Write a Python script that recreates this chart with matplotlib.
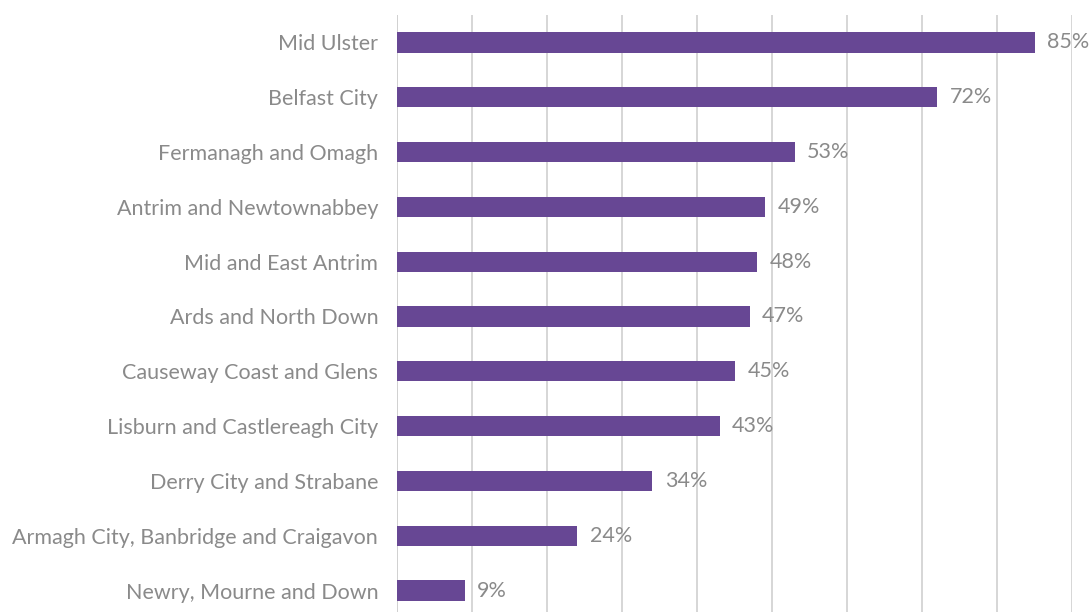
import matplotlib.pyplot as plt

councils = [
    "Mid Ulster",
    "Belfast City",
    "Fermanagh and Omagh",
    "Antrim and Newtownabbey",
    "Mid and East Antrim",
    "Ards and North Down",
    "Causeway Coast and Glens",
    "Lisburn and Castlereagh City",
    "Derry City and Strabane",
    "Armagh City, Banbridge and Craigavon",
    "Newry, Mourne and Down",
]
percent = [85, 72, 53, 49, 48, 47, 45, 43, 34, 24, 9]

plt.rcParams['font.family'] = ['Lato', 'DejaVu Sans']
text_grey = "#8a8a8a"

fig = plt.figure(figsize=(10.91, 6.12), dpi=100)
ax = fig.add_axes([397 / 1091, -6 / 612, 675 / 1091, 603 / 612])

y = list(range(len(councils)))
ax.barh(y, percent, height=0.37, color="#674794", zorder=2)

for yi, v in zip(y, percent):
    ax.text(v + 1.7, yi, f"{v}%", va="center", ha="left", fontsize=15.5,
            color=text_grey, zorder=3)

ax.set_xlim(0, 90)
ax.set_ylim(len(councils) - 0.5, -0.5)
ax.set_xticks(range(0, 91, 10))
ax.xaxis.grid(True, color="#d0d0d0", linewidth=1.2, zorder=0)
ax.set_axisbelow(True)
ax.tick_params(axis="x", bottom=False, labelbottom=False)
ax.tick_params(axis="y", left=False, pad=10)
ax.set_yticks(y)
ax.set_yticklabels(councils, fontsize=15.5, color=text_grey)
for s in ax.spines.values():
    s.set_visible(False)
ax.axvline(0, color="#d0d0d0", linewidth=1.2, zorder=1)

fig.savefig("out.png", dpi=100)
